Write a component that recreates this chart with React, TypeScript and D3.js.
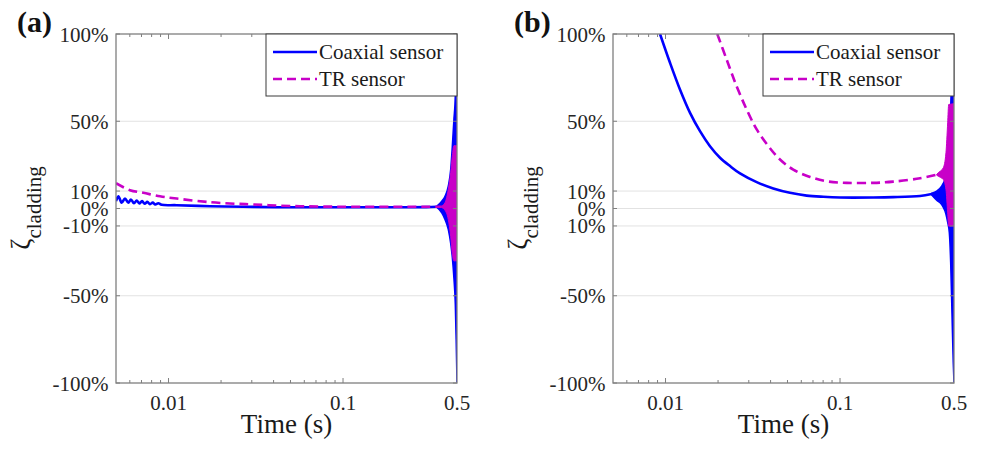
import React, { useEffect, useRef } from 'react';
import * as d3 from 'd3';

const W = 982, H = 449;
const BLUE = '#0000ff';
const MAGENTA = '#c800c8';
const FONT = '"Liberation Serif", "Times New Roman", serif';

// axis ticks
const xMajor = [0.01, 0.1, 0.45];
const xMajorLabels = ['0.01', '0.1', '0.5'];
const xMinor = [0.006, 0.007, 0.008, 0.009, 0.02, 0.03, 0.04, 0.05, 0.06, 0.07, 0.08, 0.09];
const yTicks = [100, 50, 10, 0, -10, -50, -100];
const yLabelsA = ['100%', '50%', '10%', '0%', '-10%', '-50%', '-100%'];
const yLabelsB = ['100%', '50%', '10%', '0%', '10%', '-50%', '-100%'];
const gridVals = [50, 10, 0, -10, -50];
const legendNames = ['Coaxial sensor', 'TR sensor'];

// panel (a) - coaxial sensor
const coaxTimeA = [0.005, 0.00516, 0.00539, 0.00563, 0.00588, 0.00609, 0.00634, 0.00657, 0.0068, 0.00705, 0.0073, 0.00756, 0.00783, 0.00812, 0.0084, 0.00874, 0.00914, 0.01114, 0.0173, 0.0268, 0.0417, 0.1198, 0.2, 0.3, 0.344];
const coaxValA = [4.2, 7.0, 3.3, 5.7, 3.3, 5.2, 3.0, 4.6, 2.9, 4.2, 2.7, 3.8, 2.5, 3.4, 2.3, 3.0, 2.1, 1.9, 1.3, 1.0, 0.75, 0.7, 0.7, 0.8, 1.0];
const coaxEnvTimeA = [0.344, 0.368, 0.384, 0.401, 0.414, 0.423, 0.432, 0.44, 0.445, 0.45];
const coaxHiA = [1.3, 4.2, 7.0, 12.8, 22.3, 35.7, 51, 65, 90, 100];
const coaxLoA = [0.7, -2.5, -6.3, -12, -20, -28, -40, -55, -75, -100];
// panel (a) - TR sensor
const trTimeA = [0.005, 0.00601, 0.00717, 0.00894, 0.01114, 0.0173, 0.0246, 0.0306, 0.0417, 0.0567, 0.0768, 0.1097, 0.2, 0.3, 0.368];
const trValA = [14.5, 10.5, 9.0, 7.0, 5.7, 3.6, 2.7, 2.3, 1.7, 1.3, 1.1, 1.0, 1.0, 1.0, 1.0];
const trEnvTimeA = [0.368, 0.384, 0.401, 0.414, 0.423, 0.432, 0.44, 0.45];
const trHiA = [1.5, 3.3, 10.9, 20.5, 30, 36, 36, 36];
const trLoA = [0.5, -1, -6.3, -15.9, -26, -30, -30, -30];

// panel (b) - coaxial sensor
const coaxTimeB = [0.0093, 0.01061, 0.0121, 0.01382, 0.01576, 0.01798, 0.02052, 0.02342, 0.02672, 0.03331, 0.04145, 0.05166, 0.0644, 0.0802, 0.1, 0.1551, 0.2019, 0.2873, 0.3353];
const coaxValB = [100, 83.5, 68.2, 54.8, 44.3, 35.7, 29.1, 24.3, 20.1, 15.1, 11.5, 9.0, 7.4, 6.7, 6.3, 6.3, 6.5, 7.2, 8.3];
const coaxEnvTimeB = [0.3353, 0.358, 0.3823, 0.3995, 0.4085, 0.414, 0.423, 0.4306, 0.438, 0.4456, 0.45];
const coaxHiB = [8.8, 9.9, 12.8, 16.6, 20, 28, 42, 58, 80, 97, 100];
const coaxLoB = [7.8, 4.8, 2.3, -1.5, -5, -8, -13.9, -31, -59.8, -88.5, -100];
// panel (b) - TR sensor
const trTimeB = [0.0198, 0.02241, 0.02557, 0.02919, 0.03331, 0.03881, 0.04529, 0.05396, 0.0673, 0.08387, 0.1092, 0.1551, 0.2019, 0.2873, 0.358];
const trValB = [100, 85.3, 70, 56.7, 45.3, 35.8, 28.1, 22.3, 18.1, 15.6, 14.7, 14.7, 15.4, 17.3, 19.3];
const trEnvTimeB = [0.358, 0.3657, 0.3906, 0.4047, 0.414, 0.4195, 0.45];
const trHiB = [19.5, 20.5, 23.3, 31.9, 49.1, 59.6, 60];
const trLoB = [19.1, 18.5, 16.6, 10.9, -2.5, -10.1, -10];

const panels = [
  {
    id: 'a', name: '(a)', left: 116, right: 457, yLabels: yLabelsA,
    coaxT: coaxTimeA, coaxV: coaxValA, coaxEnvT: coaxEnvTimeA, coaxHi: coaxHiA, coaxLo: coaxLoA,
    trT: trTimeA, trV: trValA, trEnvT: trEnvTimeA, trHi: trHiA, trLo: trLoA,
  },
  {
    id: 'b', name: '(b)', left: 613, right: 954, yLabels: yLabelsB,
    coaxT: coaxTimeB, coaxV: coaxValB, coaxEnvT: coaxEnvTimeB, coaxHi: coaxHiB, coaxLo: coaxLoB,
    trT: trTimeB, trV: trValB, trEnvT: trEnvTimeB, trHi: trHiB, trLo: trLoB,
  },
];

function drawPanel(svg: any, p: any) {
  const top = 34, bottom = 383;
  const x = d3.scaleLog().domain([0.005, 0.45]).range([p.left, p.right]);
  const y = d3.scaleLinear().domain([-100, 100]).range([bottom, top]);
  const g = svg.append('g');

  const clipId = 'clip-' + p.id;
  g.append('clipPath').attr('id', clipId)
    .append('rect')
    .attr('x', p.left).attr('y', top)
    .attr('width', p.right - p.left).attr('height', bottom - top);

  // horizontal grid
  g.selectAll('line.grid').data(gridVals).enter().append('line')
    .attr('class', 'grid')
    .attr('x1', p.left).attr('x2', p.right)
    .attr('y1', (d: number) => y(d)).attr('y2', (d: number) => y(d))
    .attr('stroke', '#e2e2e2').attr('stroke-width', 1);

  const line = (ts: number[], vs: number[]) =>
    d3.line<number>().x(i => x(ts[i])).y(i => y(vs[i]))
      .curve(d3.curveCatmullRom.alpha(0.5))(d3.range(ts.length));
  const area = (ts: number[], lo: number[], hi: number[]) =>
    d3.area<number>().x(i => x(ts[i])).y0(i => y(lo[i])).y1(i => y(hi[i]))
      .curve(d3.curveMonotoneX)(d3.range(ts.length));

  const plot = g.append('g').attr('clip-path', `url(#${clipId})`);

  // coaxial sensor
  plot.append('path').attr('d', area(p.coaxEnvT, p.coaxLo, p.coaxHi))
    .attr('fill', BLUE).attr('stroke', BLUE).attr('stroke-width', 1.5);
  plot.append('path').attr('d', line(p.coaxT, p.coaxV))
    .attr('fill', 'none').attr('stroke', BLUE).attr('stroke-width', 2.6);

  // TR sensor
  plot.append('path').attr('d', line(p.trT, p.trV))
    .attr('fill', 'none').attr('stroke', MAGENTA).attr('stroke-width', 2.6)
    .attr('stroke-dasharray', '9,5');
  plot.append('path').attr('d', area(p.trEnvT, p.trLo, p.trHi))
    .attr('fill', MAGENTA).attr('stroke', MAGENTA).attr('stroke-width', 1);

  // box
  g.append('rect')
    .attr('x', p.left).attr('y', top)
    .attr('width', p.right - p.left).attr('height', bottom - top)
    .attr('fill', 'none').attr('stroke', '#7f7f7f').attr('stroke-width', 1.3);

  // y ticks (both sides, inward)
  yTicks.forEach((v, i) => {
    const yy = y(v);
    g.append('line').attr('x1', p.left).attr('x2', p.left + 4).attr('y1', yy).attr('y2', yy)
      .attr('stroke', '#7f7f7f').attr('stroke-width', 1);
    g.append('line').attr('x1', p.right - 4).attr('x2', p.right).attr('y1', yy).attr('y2', yy)
      .attr('stroke', '#7f7f7f').attr('stroke-width', 1);
    g.append('text')
      .attr('x', p.left - 7.5).attr('y', yy + 7.5)
      .attr('text-anchor', 'end')
      .style('font', `21px ${FONT}`).attr('fill', '#262626')
      .text(p.yLabels[i]);
  });

  // x ticks (top and bottom, inward)
  const xt = (vals: number[], len: number) => {
    vals.forEach(v => {
      const xx = x(v);
      g.append('line').attr('x1', xx).attr('x2', xx).attr('y1', bottom).attr('y2', bottom - len)
        .attr('stroke', '#7f7f7f').attr('stroke-width', 1);
      g.append('line').attr('x1', xx).attr('x2', xx).attr('y1', top).attr('y2', top + len)
        .attr('stroke', '#7f7f7f').attr('stroke-width', 1);
    });
  };
  xt(xMinor, 3);
  xt(xMajor.slice(0, 2), 5);
  xMajor.forEach((v, i) => {
    g.append('text')
      .attr('x', x(v)).attr('y', bottom + 26.5)
      .attr('text-anchor', 'middle')
      .style('font', `21px ${FONT}`).attr('fill', '#262626')
      .text(xMajorLabels[i]);
  });

  // axis titles
  g.append('text')
    .attr('x', (p.left + p.right) / 2).attr('y', 433)
    .attr('text-anchor', 'middle')
    .style('font', `27px ${FONT}`).attr('fill', '#1a1a1a')
    .text('Time (s)');

  const yl = g.append('text')
    .attr('transform', `translate(${p.left - 86},208) rotate(-90)`)
    .attr('text-anchor', 'middle')
    .style('font', `27px ${FONT}`).attr('fill', '#1a1a1a');
  yl.append('tspan').text('ζ');
  yl.append('tspan').attr('dy', 11).style('font-size', '21px').text('cladding');

  // panel label
  g.append('text')
    .attr('x', p.left - 99).attr('y', 32)
    .style('font', `bold 30px ${FONT}`).attr('fill', '#111')
    .text(p.name);

  // legend
  const lw = 191, lh = 62;
  const lx = p.right - lw;
  const leg = g.append('g');
  leg.append('rect').attr('x', lx).attr('y', top).attr('width', lw).attr('height', lh)
    .attr('fill', '#fff').attr('stroke', '#3a3a3a').attr('stroke-width', 1);
  legendNames.forEach((name, i) => {
    const ly = top + 18 + i * 27;
    leg.append('line').attr('x1', lx + 7).attr('x2', lx + 51).attr('y1', ly).attr('y2', ly)
      .attr('stroke', i === 0 ? BLUE : MAGENTA).attr('stroke-width', 2.6)
      .attr('stroke-dasharray', i === 0 ? null : '9,5');
    leg.append('text').attr('x', lx + 53).attr('y', ly + 7)
      .style('font', `21px ${FONT}`).attr('fill', '#1a1a1a')
      .text(name);
  });
}

export default function App() {
  const ref = useRef<SVGSVGElement>(null);

  useEffect(() => {
    const svg = d3.select(ref.current);
    svg.selectAll('*').remove();
    panels.forEach(p => drawPanel(svg, p));
  }, []);

  return (
    <svg ref={ref} width={W} height={H}
      style={{ position: 'absolute', left: 0, top: 0, background: '#fff' }} />
  );
}
